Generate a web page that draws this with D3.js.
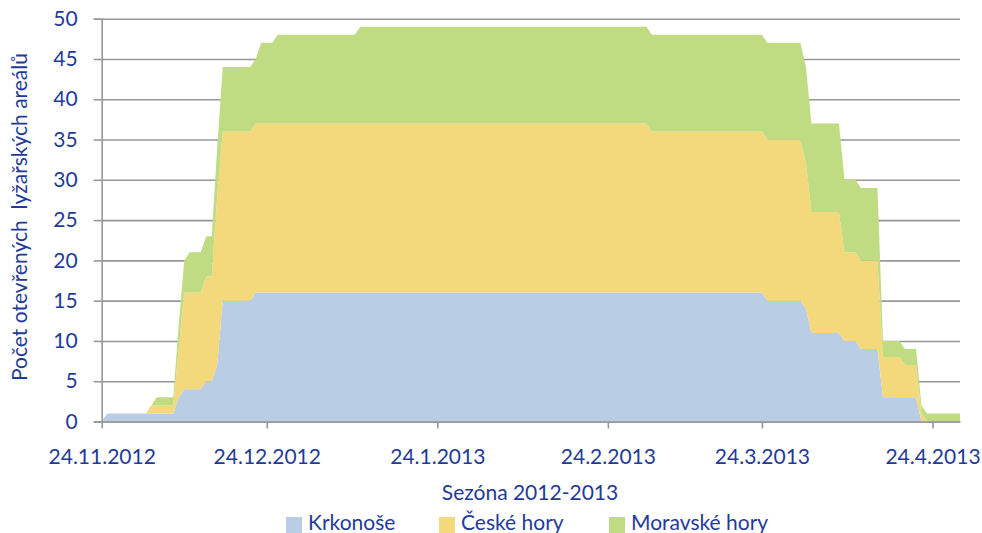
<!DOCTYPE html>
<html>
<head>
<meta charset="utf-8">
<script src="https://cdn.jsdelivr.net/npm/d3@7"></script>
<style>
    body { margin: 0; background: #fff; }
    text { font-family: Lato, "Open Sans", sans-serif; fill: #1F3B98; }
</style>
</head>
<body>
<svg id="chart" width="982" height="533"></svg>
<script>

// observation dates where some region changes (values are linear in between)
var dates = ["2012-11-24", "2012-11-25", "2012-12-02", "2012-12-03", "2012-12-04", "2012-12-07",
    "2012-12-08", "2012-12-09", "2012-12-10", "2012-12-12", "2012-12-13", "2012-12-14",
    "2012-12-15", "2012-12-16", "2012-12-21", "2012-12-22", "2012-12-23", "2012-12-25",
    "2012-12-26", "2013-01-09", "2013-01-10", "2013-03-03", "2013-03-04", "2013-03-24",
    "2013-03-25", "2013-03-31", "2013-04-01", "2013-04-02", "2013-04-07", "2013-04-08",
    "2013-04-10", "2013-04-11", "2013-04-14", "2013-04-15", "2013-04-18", "2013-04-19",
    "2013-04-21", "2013-04-22", "2013-04-23", "2013-04-29"];

var krkonose     = [0, 1, 1, 1, 1, 1, 3, 4, 4, 4, 5, 5, 7, 15, 15, 16, 16, 16, 16, 16,
    16, 16, 16, 16, 15, 15, 14, 11, 11, 10, 10, 9, 9, 3, 3, 3, 3, 0, 0, 0];
var ceskeHory    = [0, 0, 0, 1, 1, 1, 6, 12, 12, 12, 13, 13, 21, 21, 21, 21, 21, 21, 21, 21,
    21, 21, 20, 20, 20, 20, 18, 15, 15, 11, 11, 11, 11, 5, 5, 4, 4, 1, 0, 0];
var moravskeHory = [0, 0, 0, 0, 1, 1, 3, 4, 5, 5, 5, 5, 6, 8, 8, 8, 10, 10, 11, 11,
    12, 12, 12, 12, 12, 12, 12, 11, 11, 9, 9, 9, 9, 2, 2, 2, 2, 1, 1, 1];

var seriesNames = ["Krkonoše", "České hory", "Moravské hory"];
var colors = ["#B9CDE5", "#F3D97B", "#C0DC82"];

var yTicks = [0, 5, 10, 15, 20, 25, 30, 35, 40, 45, 50];
var xTicks = ["2012-11-24", "2012-12-24", "2013-01-24", "2013-02-24", "2013-03-24", "2013-04-24"];
var xDomain = ["2012-11-24", "2013-04-29"];

var parse = d3.utcParse("%Y-%m-%d");
var plotL = 101.7, plotR = 960, plotT = 18.7, plotB = 421.5;
var gridColor = "#979797";

var rows = dates.map((d, i) => ({
    date: parse(d),
    "Krkonoše": krkonose[i],
    "České hory": ceskeHory[i],
    "Moravské hory": moravskeHory[i]
}));

var svg = d3.select('#chart');

var x = d3.scaleUtc()
    .domain(xDomain.map(parse))
    .range([plotL, plotR]);

var y = d3.scaleLinear()
    .domain([0, 50])
    .range([plotB, plotT]);

// gridlines
svg.append("g")
    .attr("transform", `translate(${plotL} 0)`)
    .call(d3.axisLeft(y).tickValues(yTicks).tickSize(-(plotR - plotL)).tickFormat(""))
    .call(g => g.select(".domain").remove())
    .call(g => g.selectAll("line").attr("stroke", gridColor).attr("stroke-width", 1.6));

// stacked areas
var stack = d3.stack().keys(seriesNames);
var area = d3.area()
    .x(d => x(d.data.date))
    .y0(d => y(d[0]))
    .y1(d => y(d[1]));

svg.append("g")
    .selectAll("path")
    .data(stack(rows))
    .join("path")
    .attr("fill", (d, i) => colors[i])
    .attr("d", area);

// y axis
svg.append("g")
    .attr("transform", `translate(${plotL} 0)`)
    .call(d3.axisLeft(y).tickValues(yTicks).tickSize(8).tickPadding(16))
    .call(g => g.select(".domain").attr("stroke", gridColor).attr("stroke-width", 1.6))
    .call(g => g.selectAll("line").attr("stroke", gridColor).attr("stroke-width", 1.6))
    .call(g => g.selectAll("text").attr("font-size", 21).attr("font-family", null).attr("fill", null));

// x axis
svg.append("g")
    .attr("transform", `translate(0 ${plotB})`)
    .call(d3.axisBottom(x)
        .tickValues(xTicks.map(parse))
        .tickSize(7)
        .tickSizeOuter(0)
        .tickPadding(21)
        .tickFormat(d3.utcFormat("%-d.%-m.%Y")))
    .call(g => g.select(".domain").attr("stroke", gridColor).attr("stroke-width", 1.6))
    .call(g => g.selectAll("line").attr("stroke", gridColor).attr("stroke-width", 1.6))
    .call(g => g.selectAll("text").attr("font-size", 21).attr("font-family", null).attr("fill", null));

// axis titles
svg.append("text")
    .attr("transform", "translate(27 217) rotate(-90)")
    .attr("text-anchor", "middle")
    .attr("font-size", 21)
    .attr("xml:space", "preserve")
    .text("Počet otevřených  lyžařských areálů");

svg.append("text")
    .attr("x", 530)
    .attr("y", 500)
    .attr("text-anchor", "middle")
    .attr("font-size", 21)
    .text("Sezóna 2012-2013");

// legend
var legendX = [286, 439, 609];
var legend = svg.append("g")
    .selectAll("g")
    .data(seriesNames)
    .join("g")
    .attr("transform", (d, i) => `translate(${legendX[i]} 0)`);

legend.append("rect")
    .attr("y", 517)
    .attr("width", 16)
    .attr("height", 16)
    .attr("fill", (d, i) => colors[i]);

legend.append("text")
    .attr("x", 22)
    .attr("y", 530)
    .attr("font-size", 21)
    .text(d => d);

</script>
</body>
</html>
